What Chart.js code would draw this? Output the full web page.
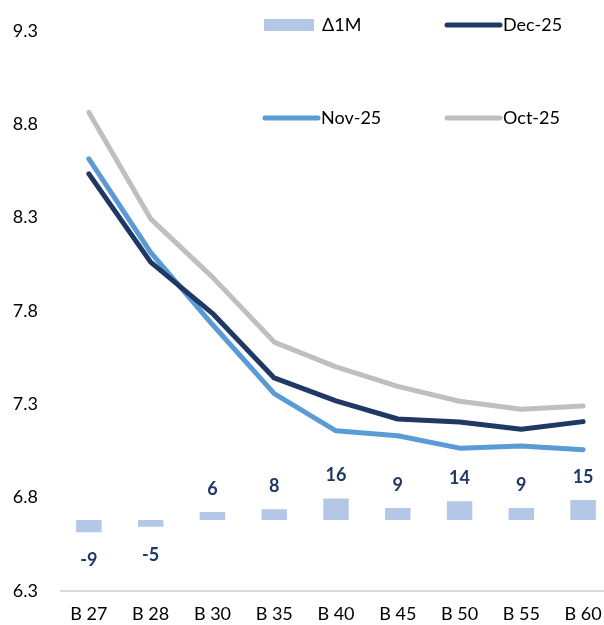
<!DOCTYPE html>
<html>
<head>
<meta charset="utf-8">
<script src="https://cdn.jsdelivr.net/npm/chart.js@4.4.1/dist/chart.umd.min.js"></script>
<style>
  html, body { margin: 0; padding: 0; background: #ffffff; overflow: hidden; }
  #wrap { width: 614px; height: 625px; }
</style>
</head>
<body>
<div id="wrap"><canvas id="c" width="614" height="625"></canvas></div>
<script>
// Bond tenors
const categories = ['B 27', 'B 28', 'B 30', 'B 35', 'B 40', 'B 45', 'B 50', 'B 55', 'B 60'];
// Yield curves (%)
const dec25 = [8.534, 8.061, 7.787, 7.441, 7.318, 7.221, 7.205, 7.166, 7.207];
const nov25 = [8.614, 8.114, 7.727, 7.357, 7.158, 7.131, 7.065, 7.076, 7.057];
const oct25 = [8.863, 8.293, 7.981, 7.633, 7.500, 7.396, 7.316, 7.273, 7.291];
// Monthly change (bp)
const delta1M = [-9, -5, 6, 8, 16, 9, 14, 9, 15];
// Y axis tick range
const yTicks = { min: 6.3, max: 9.3, step: 0.5 };

const NAVY = '#1F3864';
const LIGHT_BLUE = '#5B9BD5';
const GREY = '#BFBFBF';
const BAR = '#B4C7E7';
const AXIS = '#D9D9D9';
const FONT = 'Lato, "Open Sans", sans-serif';

// Horizontal category axis line along the bottom of the plot
const baseLine = {
  id: 'baseLine',
  beforeDatasetsDraw(chart) {
    const { ctx, chartArea } = chart;
    ctx.save();
    ctx.strokeStyle = AXIS;
    ctx.lineWidth = 2;
    ctx.beginPath();
    ctx.moveTo(chartArea.left + 2, chartArea.bottom);
    ctx.lineTo(chartArea.right, chartArea.bottom);
    ctx.stroke();
    ctx.restore();
  }
};

// Value labels above/below the change bars
const barLabels = {
  id: 'barLabels',
  afterDatasetsDraw(chart) {
    const ctx = chart.ctx;
    const meta = chart.getDatasetMeta(0);
    ctx.save();
    ctx.fillStyle = NAVY;
    ctx.font = 'bold 18px ' + FONT;
    ctx.textAlign = 'center';
    ctx.textBaseline = 'middle';
    meta.data.forEach((el, i) => {
      const v = delta1M[i];
      const props = el.getProps(['x', 'y', 'base'], true);
      const top = Math.min(props.y, props.base);
      const bottom = Math.max(props.y, props.base);
      const y = v >= 0 ? top - 23 : bottom + 28;
      ctx.fillText(String(v), props.x, y);
    });
    ctx.restore();
  }
};

// Two-row legend placed inside the plot
const cornerLegend = {
  id: 'cornerLegend',
  afterDraw(chart) {
    const ctx = chart.ctx;
    const items = [
      { text: '\u03941M', type: 'box', color: BAR, x: 264, y: 25 },
      { text: 'Dec-25', type: 'line', color: NAVY, x: 445, y: 25 },
      { text: 'Nov-25', type: 'line', color: LIGHT_BLUE, x: 263, y: 118 },
      { text: 'Oct-25', type: 'line', color: GREY, x: 445, y: 118 }
    ];
    ctx.save();
    ctx.font = '18px ' + FONT;
    ctx.textBaseline = 'middle';
    ctx.textAlign = 'left';
    items.forEach(it => {
      if (it.type === 'box') {
        ctx.fillStyle = it.color;
        ctx.fillRect(it.x, it.y - 6, 50, 12);
      } else {
        ctx.strokeStyle = it.color;
        ctx.lineWidth = 5;
        ctx.lineCap = 'round';
        ctx.beginPath();
        ctx.moveTo(it.x + 2, it.y);
        ctx.lineTo(it.x + 55, it.y);
        ctx.stroke();
      }
      ctx.fillStyle = '#000000';
      ctx.fillText(it.text, it.x + 58, it.y);
    });
    ctx.restore();
  }
};

const lineStyle = (color) => ({
  borderColor: color,
  backgroundColor: color,
  borderWidth: 5,
  borderCapStyle: 'round',
  borderJoinStyle: 'round',
  pointRadius: 0,
  pointHoverRadius: 0,
  tension: 0,
  fill: false,
  yAxisID: 'y'
});

new Chart(document.getElementById('c'), {
  data: {
    labels: categories,
    datasets: [
      {
        type: 'bar',
        label: '\u03941M',
        data: delta1M,
        backgroundColor: BAR,
        borderWidth: 0,
        barPercentage: 0.55,
        categoryPercentage: 0.75,
        yAxisID: 'yDelta',
        order: 5
      },
      Object.assign({ type: 'line', label: 'Oct-25', data: oct25, order: 3 }, lineStyle(GREY)),
      Object.assign({ type: 'line', label: 'Nov-25', data: nov25, order: 2 }, lineStyle(LIGHT_BLUE)),
      Object.assign({ type: 'line', label: 'Dec-25', data: dec25, order: 1 }, lineStyle(NAVY))
    ]
  },
  options: {
    responsive: false,
    animation: false,
    devicePixelRatio: 1,
    layout: { padding: { top: 30, right: 0, bottom: 0, left: 0 } },
    plugins: {
      legend: { display: false },
      tooltip: { enabled: false }
    },
    scales: {
      x: {
        offset: true,
        grid: { display: false, drawTicks: false },
        border: { display: false },
        ticks: { color: '#000000', font: { family: FONT, size: 18 }, padding: 12, maxRotation: 0 },
        afterFit(scale) { scale.height = 34; }
      },
      y: {
        position: 'left',
        min: yTicks.min,
        max: yTicks.max,
        grid: { display: false, drawTicks: false },
        border: { display: false },
        ticks: {
          stepSize: yTicks.step,
          color: '#000000',
          font: { family: FONT, size: 18 },
          padding: 20,
          callback: (v) => Number(v).toFixed(1)
        },
        afterFit(scale) { scale.width = 58; }
      },
      yDelta: {
        display: false,
        min: -52.6,
        max: 363
      }
    }
  },
  plugins: [baseLine, barLabels, cornerLegend]
});
</script>
</body>
</html>
